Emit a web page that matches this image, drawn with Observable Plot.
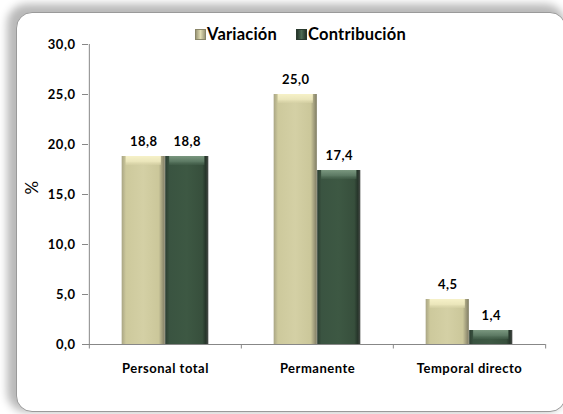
<!DOCTYPE html>
<html>
<head>
<meta charset="utf-8">
<script src="https://cdn.jsdelivr.net/npm/d3@7"></script>
<script src="https://cdn.jsdelivr.net/npm/@observablehq/plot@0.6"></script>
<style>
  html, body { margin: 0; padding: 0; background: #fff; }
  #page { position: relative; width: 563px; height: 414px; overflow: hidden; background: #fff; font-family: Lato, "DejaVu Sans", sans-serif; }
  #box { position: absolute; left: 16px; top: 12px; width: 548px; height: 398px; border-radius: 16px; border: 1px solid #9a9a9a; background: #fff;
         box-shadow: -5px -4px 8px 4px rgba(0,0,0,0.28); }
  #chart { position: absolute; left: 0; top: 0; }
  #legend { position: absolute; left: 195px; top: 24px; display: flex; align-items: center; font-weight: bold; font-size: 16.5px; letter-spacing: 0.2px; color: #000; }
  .sw { width: 11px; height: 11px; display: inline-block; margin-right: 1px; box-sizing: border-box; }
  .sw1 { background: linear-gradient(90deg, #9c9878, #e2ddb3 50%, #9c9878); border: 1px solid #8a8668; }
  .sw2 { background: linear-gradient(90deg, #25342a, #4d6b54 50%, #25342a); border: 1px solid #2a3a2e; }
  #chart text { letter-spacing: 0.5px; }
</style>
</head>
<body>
<div id="page">
  <div id="box"></div>
  <div id="chart"></div>
  <div id="legend">
    <span class="sw sw1"></span><span style="margin-right:19px">Variación</span>
    <span class="sw sw2"></span><span>Contribución</span>
  </div>
</div>
<script>
const categories = ["Personal total", "Permanente", "Temporal directo"];
const series = ["Variación", "Contribución"];
const variacion = [18.8, 25.0, 4.5];
const contribucion = [18.8, 17.4, 1.4];
const yTicks = [0, 5, 10, 15, 20, 25, 30];

const varData = categories.map((c, i) => ({category: c, series: series[0], value: variacion[i]}));
const conData = categories.map((c, i) => ({category: c, series: series[1], value: contribucion[i]}));

const W = 563, H = 414, mL = 88, mR = 18, mT = 44, mB = 70;
const band = (W - mL - mR) / categories.length;
const barW = 43.5;
const half = band / 2;
const fmt = d => d.toFixed(1).replace(".", ",");

const defs = () => {
  const g = d3.create("svg:defs");
  const lin = (id, stops, vertical) => {
    const lg = g.append("linearGradient").attr("id", id)
      .attr("x1", 0).attr("y1", 0).attr("x2", vertical ? 0 : 1).attr("y2", vertical ? 1 : 0);
    stops.forEach(([o, c, op]) => lg.append("stop").attr("offset", o).attr("stop-color", c).attr("stop-opacity", op ?? 1));
  };
  lin("gVar", [[0, "#a9a584"], [0.1, "#cdc99c"], [0.5, "#d4d0a5"], [0.86, "#cbc79a"], [0.94, "#9f9b7b"], [1, "#7f7c63"]]);
  lin("gCon", [[0, "#2c3d30"], [0.1, "#3a5441"], [0.5, "#3d5843"], [0.86, "#374f3c"], [0.94, "#26352a"], [1, "#4a4d4a"]]);
  lin("hVar", [[0, "#f6f1c8"], [0.6, "#ebe6bb"], [1, "#d8d3a7", 0.5]], true);
  lin("hCon", [[0, "#7a977f"], [0.6, "#5d7a64"], [1, "#46624d", 0.5]], true);
  return g.node();
};

const axisColor = "#878787";
const chart = Plot.plot({
  width: W, height: H,
  marginLeft: mL, marginRight: mR, marginTop: mT, marginBottom: mB,
  style: {fontFamily: "Lato, 'DejaVu Sans', sans-serif", fontWeight: "bold", fontSize: "13px", background: "transparent", overflow: "visible"},
  x: {domain: categories, padding: 0, axis: null},
  y: {domain: [0, 30], axis: null},
  marks: [
    defs,
    Plot.barY(varData, {x: "category", y: "value", fill: "url(#gVar)", insetLeft: half - barW, insetRight: half}),
    Plot.barY(conData, {x: "category", y: "value", fill: "url(#gCon)", insetLeft: half, insetRight: half - barW}),
    Plot.barY(varData, {x: "category", y1: "value", y2: "value", insetBottom: -9, fill: "url(#hVar)", insetLeft: half - barW + 4, insetRight: half + 4}),
    Plot.barY(conData, {x: "category", y1: "value", y2: "value", insetBottom: -9, fill: "url(#hCon)", insetLeft: half + 4, insetRight: half - barW + 4}),
    Plot.ruleY([0], {stroke: axisColor, strokeWidth: 1.2}),
    Plot.ruleX(categories.slice(0, 1), {x: d => d, dx: -half, y1: -0.45, y2: 30, stroke: axisColor}),
    Plot.ruleX(categories.slice(1), {x: d => d, dx: -half, y1: 0, y2: -0.45, stroke: axisColor}),
    Plot.ruleX(categories.slice(-1), {x: d => d, dx: half, y1: 0, y2: -0.45, stroke: axisColor}),
    Plot.axisY({ticks: yTicks, tickFormat: fmt, tickSize: 6, tickPadding: 7, stroke: axisColor, fill: "#000", label: null, fontSize: 13}),
    Plot.text(varData, {x: "category", y: "value", text: d => fmt(d.value), dx: -barW / 2, dy: -15, fill: "#000", fontSize: 13}),
    Plot.text(conData, {x: "category", y: "value", text: d => fmt(d.value), dx: barW / 2, dy: -15, fill: "#000", fontSize: 13}),
    Plot.text(categories, {x: d => d, y: 0, text: d => d, dy: 24, fill: "#000", fontSize: 13}),
    Plot.text(["%"], {frameAnchor: "left", y: 15, dx: -56, rotate: -90, text: d => d, fontSize: 17, fontWeight: "normal", fill: "#000"})
  ]
});
document.getElementById("chart").appendChild(chart);
</script>
</body>
</html>
